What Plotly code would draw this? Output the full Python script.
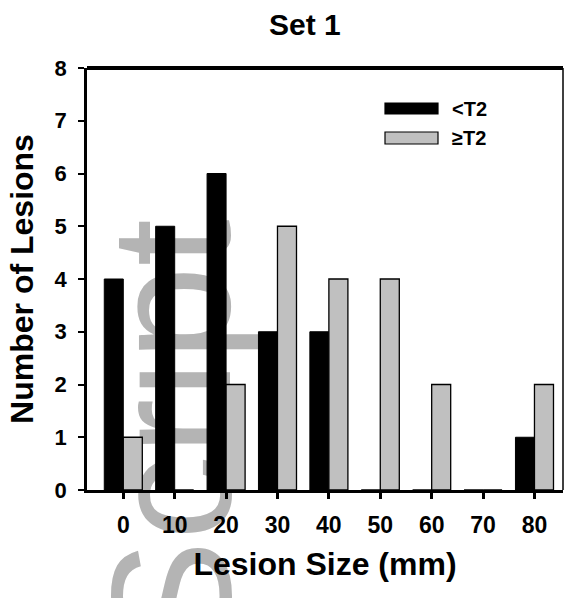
import plotly.graph_objects as go

# ---- data ----
lesion_sizes = [0, 10, 20, 30, 40, 50, 60, 70, 80]
tick_labels = ["0", "10", "20", "30", "40", "50", "60", "70", "80"]
below_t2 = [4, 5, 6, 3, 3, 0, 0, 0, 1]
above_t2 = [1, 0, 2, 5, 4, 4, 2, 0, 2]
series_names = ["<T2", "\u2265T2"]
y_ticks = [0, 1, 2, 3, 4, 5, 6, 7, 8]
title_text = "Set 1"
x_title = "Lesion Size (mm)"
y_title = "Number of Lesions"
watermark = "Script"

FONT = "Liberation Sans, Arial, sans-serif"
BLACK = "#000000"
GRAY = "#c0c0c0"

fig = go.Figure()
# empty helper trace so that the watermark axis (x2) is rendered
fig.add_trace(go.Scatter(x=[], y=[], xaxis="x2", yaxis="y", mode="markers",
                         showlegend=False, hoverinfo="skip"))
fig.add_trace(go.Bar(x=lesion_sizes, y=below_t2, name=series_names[0],
                     marker=dict(color=BLACK, line=dict(color=BLACK, width=1))))
fig.add_trace(go.Bar(x=lesion_sizes, y=above_t2, name=series_names[1],
                     marker=dict(color=GRAY, line=dict(color=BLACK, width=1.3))))

W, H = 564, 598
ml, mr, mt, mb = 87, 1, 68, 108

fig.update_layout(
    width=W, height=H,
    margin=dict(l=ml, r=mr, t=mt, b=mb, pad=0, autoexpand=False),
    paper_bgcolor="white", plot_bgcolor="rgba(0,0,0,0)",
    barmode="group", bargap=0.26, bargroupgap=0,
    showlegend=False,
    font=dict(family=FONT, color=BLACK),
    xaxis=dict(
        range=[-7.06, 85.55], tickvals=lesion_sizes, ticktext=tick_labels,
        showgrid=False, zeroline=False, automargin=False,
        showline=True, linecolor=BLACK, linewidth=2.5,
        ticks="outside", ticklen=6, tickwidth=2.5, tickcolor=BLACK,
        tickfont=dict(family=FONT, size=23, color=BLACK, weight="bold"),
        ticklabelstandoff=7,
        title=dict(text="<b>" + x_title + "</b>",
                   font=dict(family=FONT, size=32, color=BLACK), standoff=16),
        layer="above traces",
    ),
    yaxis=dict(
        range=[0, 8], tickvals=y_ticks,
        showgrid=False, zeroline=False, automargin=False,
        showline=True, linecolor=BLACK, linewidth=2.5,
        ticks="outside", ticklen=6, tickwidth=2, tickcolor=BLACK,
        tickfont=dict(family=FONT, size=22, color=BLACK, weight="bold"),
        ticklabelstandoff=7,
        title=dict(text="<b>" + y_title + "</b>",
                   font=dict(family=FONT, size=32, color=BLACK), standoff=12),
        layer="above traces",
    ),
    # watermark drawn as a single rotated tick label beneath the bars
    xaxis2=dict(
        overlaying="x", anchor="free", position=0.725, side="bottom",
        range=[-7.06, 85.55], tickvals=[10.0], ticktext=[watermark],
        tickangle=-90, showgrid=False, zeroline=False, showline=False,
        automargin=False,
        ticks="", tickfont=dict(family=FONT, size=170, color="#b4b4b4"),
        layer="below traces",
    ),
)

# frame: thick top border and thin right border
fig.add_shape(type="line", xref="paper", yref="paper", x0=0, x1=1, y0=1, y1=1,
              line=dict(color=BLACK, width=4))
fig.add_shape(type="line", xref="paper", yref="paper", x0=1, x1=1, y0=0, y1=1,
              line=dict(color=BLACK, width=1.5))

# title
fig.add_annotation(text="<b>" + title_text + "</b>", xref="paper", yref="paper",
                   x=(305 - ml) / 476, y=(H - mb - 25) / 422, showarrow=False,
                   xanchor="center", yanchor="middle",
                   font=dict(family=FONT, size=30, color=BLACK))

# legend (custom wide swatches)
def px_x(p):
    return (p - ml) / 476

def px_y(p):
    return (H - mb - p) / 422

legend_rows = [(series_names[0], BLACK, 103, 114), (series_names[1], GRAY, 132, 144)]
for name, col, ytop, ybot in legend_rows:
    fig.add_shape(type="rect", xref="paper", yref="paper",
                  x0=px_x(385), x1=px_x(438), y0=px_y(ybot), y1=px_y(ytop),
                  fillcolor=col, line=dict(color=BLACK, width=1.2))
    fig.add_annotation(text="<b>" + name + "</b>", xref="paper", yref="paper",
                       x=px_x(450), y=px_y((ytop + ybot) / 2), showarrow=False,
                       xanchor="left", yanchor="middle",
                       font=dict(family=FONT, size=20, color=BLACK))

fig.write_html("out.html")
